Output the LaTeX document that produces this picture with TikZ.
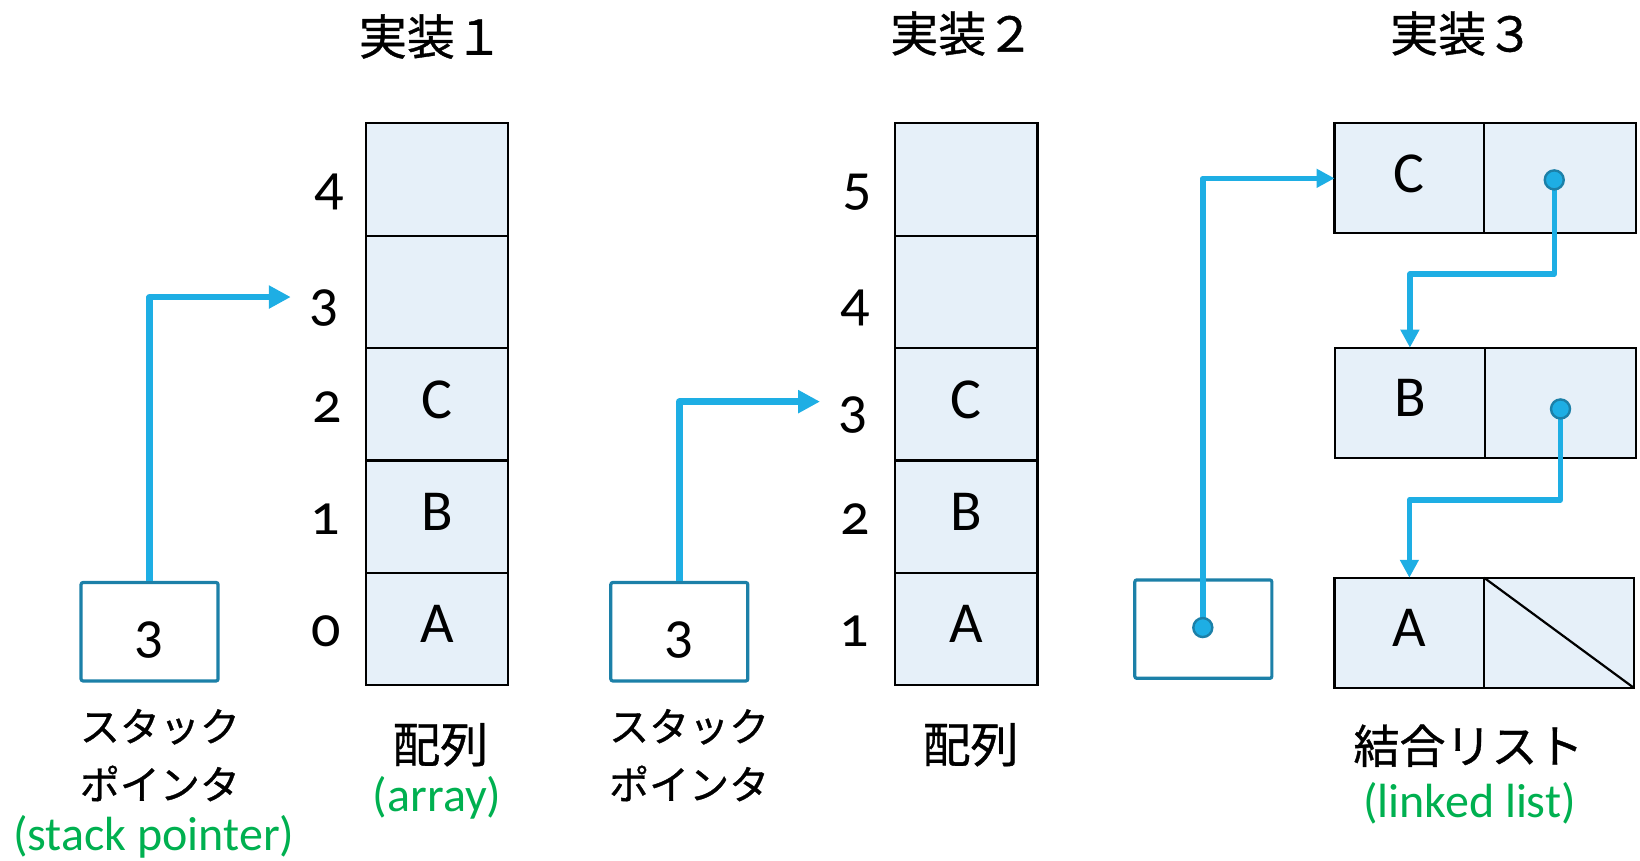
\documentclass[tikz,border=0pt]{standalone}
\usepackage{fontspec}
\setmainfont{Carlito}[Numbers=OldStyle]
\newfontfamily\jp{Noto Sans CJK JP}[FakeBold=0.8]
\usetikzlibrary{arrows.meta}
\definecolor{cellfill}{HTML}{E6F0F9}
\definecolor{arrowc}{HTML}{1EAEE4}
\definecolor{ptrborder}{HTML}{1C80A8}
\definecolor{engreen}{HTML}{00B050}
\tikzset{
  cell/.style={draw=black, line width=1.1pt, fill=cellfill, minimum width=71.1pt,
    minimum height=56.2pt, inner sep=0pt, outer sep=0pt, text height=18pt, text depth=4pt,
    font=\fontsize{29}{29}\selectfont},
  lcell/.style={cell, minimum width=75.0pt, minimum height=55pt},
  idx/.style={anchor=base, inner sep=0pt, font=\fontsize{29}{29}\selectfont},
  ptrbox/.style={draw=ptrborder, line width=1.6pt, fill=white, rounded corners=1pt,
    minimum width=68.5pt, minimum height=49.2pt, inner sep=0pt, text height=21pt, text depth=0pt,
    font=\fontsize{29}{29}\selectfont},
  ptr/.style={draw=arrowc, line width=3.3pt, line join=round, -{Triangle[length=11pt,width=11pt]}},
  ptrs/.style={draw=arrowc, line width=2.7pt, line join=round, -{Triangle[length=9pt,width=9pt]}},
  dot/.style={circle, fill=arrowc, draw=ptrborder, line width=1.2pt, minimum size=9.5pt, inner sep=0pt},
  title/.style={font=\jp\fontsize{24}{24}\selectfont},
  jlabel/.style={font=\jp\fontsize{23}{23}\selectfont},
  klabel/.style={font=\jp\fontsize{20}{29}\selectfont, align=left, anchor=west, inner sep=0pt},
  elabel/.style={text=engreen, font=\fontsize{24}{24}\selectfont},
}
\begin{document}
\begin{tikzpicture}[x=0.5229pt,y=-0.5229pt]
\useasboundingbox (0,0) rectangle (1568,823);

% titles
\node[title] (t1) at (412,35) {実装１};
\node[title] (t2) at (920,32) {実装２};
\node[title] (t3) at (1398,32) {実装３};

% ===== implementation 1 =====
\node[cell] (a10) at (418,601.3) {A};
\node[cell] (a11) at (418,493.9) {B};
\node[cell] (a12) at (418,386.5) {C};
\node[cell] (a13) at (418,279.1) {};
\node[cell] (a14) at (418,171.7) {};
\node[idx] (i10) at (312,618.3) {0};
\node[idx] (i11) at (311,510.9) {1};
\node[idx] (i12) at (313,403.5) {2};
\node[idx] (i13) at (310,306) {3};
\node[idx] (i14) at (315,196) {4};

\node[ptrbox] (sp1) at (143,604) {3};
\coordinate (tg1) at (278,284);
\draw[ptr] (sp1.north) |- (tg1);

\node[klabel] (k1) at (76,722) {スタック\\ポインタ};
\node[elabel] (e1) at (147,800) {(stack pointer)};
\node[jlabel, font=\jp\fontsize{24}{24}\selectfont] (j1) at (421,712) {配列};
\node[elabel] (e2) at (418,763) {(array)};

% ===== implementation 2 =====
\node[cell] (a20) at (924,601.3) {A};
\node[cell] (a21) at (924,493.9) {B};
\node[cell] (a22) at (924,386.5) {C};
\node[cell] (a23) at (924,279.1) {};
\node[cell] (a24) at (924,171.7) {};
\node[idx] (i20) at (817,618.3) {1};
\node[idx] (i21) at (818,510.9) {2};
\node[idx] (i22) at (816,409) {3};
\node[idx] (i23) at (818,306) {4};
\node[idx] (i24) at (820,196) {5};

\node[ptrbox] (sp2) at (649.5,604) {3};
\coordinate (tg2) at (784,384);
\draw[ptr] (sp2.north) |- (tg2);

\node[klabel] (k2) at (582,722) {スタック\\ポインタ};
\node[jlabel, font=\jp\fontsize{24}{24}\selectfont] (j2) at (928,712) {配列};

% ===== implementation 3 =====
\node[lcell, minimum width=74.8pt] (cd) at (1347.5,170.5) {C};
\node[lcell, minimum width=75.8pt] (cp) at (1491.5,170.5) {};
\node[lcell, minimum width=74.8pt] (bd) at (1348,385) {B};
\node[lcell, minimum width=75.3pt] (bp) at (1492,385) {};
\node[lcell, minimum width=74.8pt] (ad) at (1347.5,605) {A};
\node[lcell, minimum width=74.8pt] (ap) at (1490.5,605) {};
\draw[line width=1.1pt] (ap.north west) -- (ap.south east);

\node[ptrbox, text height=0pt] (sp3) at (1150.5,601.5) {};

\coordinate (dS) at (1150,600);
\coordinate (dC) at (1486,172);
\coordinate (dB) at (1492,391);

\draw[ptrs] (dS) |- (cd.west);
\draw[ptrs] (dC) -- (dC |- 0,262) -| (bd.north);
\draw[ptrs] (dB) -- (dB |- 0,478) -| (ad.north);

\node[dot] (nS) at (dS) {};
\node[dot] (nC) at (dC) {};
\node[dot] (nB) at (dB) {};

\node[jlabel] (j3) at (1404,713) {結合リスト};
\node[elabel] (e3) at (1405,768) {(linked list)};
\end{tikzpicture}
\end{document}
